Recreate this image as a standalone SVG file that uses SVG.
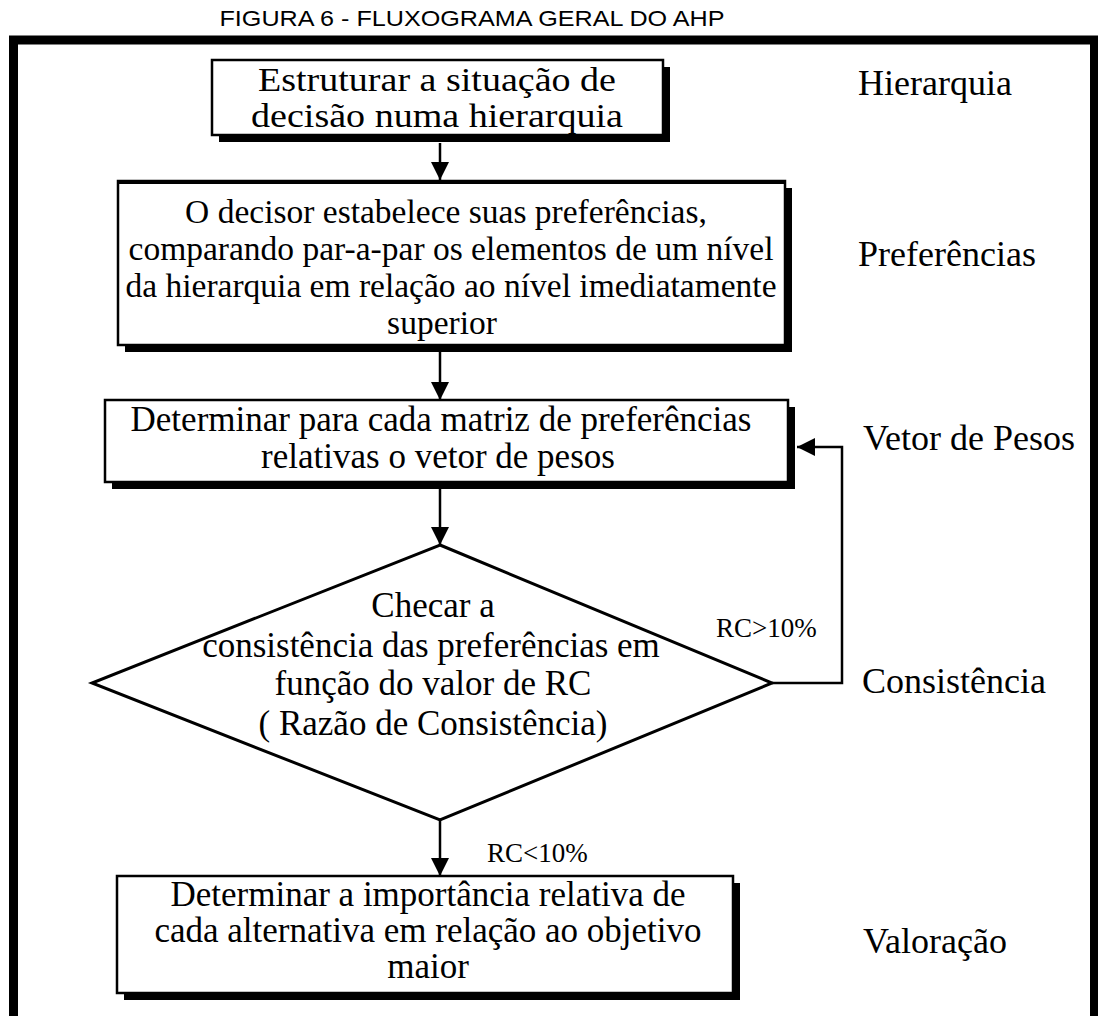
<svg xmlns="http://www.w3.org/2000/svg" width="1098" height="1016" viewBox="0 0 1098 1016">
  <style>
    .title { font-family: "Liberation Sans", Arial, sans-serif; font-size: 22px; fill: #000; text-anchor: middle; }
    .txt { font-family: "Liberation Serif", "Times New Roman", serif; fill: #000; text-anchor: middle; }
    .f34 { font-size: 34px; }
    .f33 { font-size: 33.5px; }
    .f35 { font-size: 35px; }
    .lbl { font-family: "Liberation Serif", "Times New Roman", serif; font-size: 36px; fill: #000; }
    .small { font-family: "Liberation Serif", "Times New Roman", serif; font-size: 27px; fill: #000; }
    .box { fill: #fff; stroke: #000; stroke-width: 2.5; }
    .shadow { fill: #000; }
    .edge { fill: none; stroke: #000; stroke-width: 2.5; }
  </style>
  <defs>
    <marker id="arrow" viewBox="0 0 10 10" refX="10" refY="5" markerUnits="userSpaceOnUse" markerWidth="18" markerHeight="18" orient="auto">
      <path d="M0,0 L10,5 L0,10 z" fill="#000"/>
    </marker>
  </defs>

  <rect width="1098" height="1016" fill="#fff"/>

  <!-- caption -->
  <text class="title" x="472" y="26" textLength="505" lengthAdjust="spacingAndGlyphs">FIGURA 6 - FLUXOGRAMA GERAL DO AHP</text>

  <!-- heavy outer frame, open at the bottom -->
  <rect x="13.5" y="40" width="1081" height="1010" fill="none" stroke="#000" stroke-width="9"/>

  <!-- stage labels on the right -->
  <g id="labels">
    <text class="lbl" x="858" y="95">Hierarquia</text>
    <text class="lbl" x="858" y="266">Preferências</text>
    <text class="lbl" x="863" y="450">Vetor de Pesos</text>
    <text class="lbl" x="862" y="693">Consistência</text>
    <text class="lbl" x="863" y="953">Valoração</text>
  </g>

  <g id="connectors">
    <line class="edge" x1="440" y1="143" x2="440" y2="180" marker-end="url(#arrow)"/>
    <line class="edge" x1="440" y1="352" x2="440" y2="400" marker-end="url(#arrow)"/>
    <line class="edge" x1="440" y1="489" x2="440" y2="545" marker-end="url(#arrow)"/>
    <line class="edge" x1="440" y1="820" x2="440" y2="876" marker-end="url(#arrow)"/>
    <polyline class="edge" points="772,683 842,683 842,447 797,447" marker-end="url(#arrow)"/>
    <text class="small" x="716" y="637">RC&gt;10%</text>
    <text class="small" x="487" y="862">RC&lt;10%</text>
  </g>

  <g id="n1">
    <rect class="shadow" x="219" y="67" width="451" height="75"/>
    <rect class="box" x="212" y="60" width="451" height="75"/>
    <text class="txt f34" x="437" y="91" textLength="358" lengthAdjust="spacingAndGlyphs">Estruturar a situação de</text>
    <text class="txt f34" x="437" y="127" textLength="372" lengthAdjust="spacingAndGlyphs">decisão numa hierarquia</text>
  </g>

  <g id="n2">
    <rect class="shadow" x="125" y="188" width="667" height="164"/>
    <rect class="box" x="118" y="181" width="667" height="164"/>
    <path d="M118,182 H785" stroke="#000" stroke-width="4"/>
    <text class="txt f33" x="446" y="223">O decisor estabelece suas preferências,</text>
    <text class="txt f33" x="451" y="260">comparando par-a-par os elementos de um nível</text>
    <text class="txt f33" x="451" y="297">da hierarquia em relação ao nível imediatamente</text>
    <text class="txt f33" x="442" y="334">superior</text>
  </g>

  <g id="n3">
    <rect class="shadow" x="112" y="407" width="683" height="82"/>
    <rect class="box" x="105" y="400" width="683" height="82"/>
    <text class="txt f35" x="441" y="431">Determinar para cada matriz de preferências</text>
    <text class="txt f35" x="438" y="468">relativas o vetor de pesos</text>
  </g>

  <g id="n4">
    <polygon points="440,545 772,683 440,820 92,683" fill="#fff" stroke="#000" stroke-width="3"/>
    <text class="txt f35" x="433" y="617">Checar a</text>
    <text class="txt f35" x="431" y="657">consistência das preferências em</text>
    <text class="txt f35" x="433" y="695">função do valor de RC</text>
    <text class="txt f35" x="433" y="735">( Razão de Consistência)</text>
  </g>

  <g id="n5">
    <rect class="shadow" x="124" y="883" width="616" height="117"/>
    <rect class="box" x="117" y="876" width="616" height="117"/>
    <text class="txt f35" x="428" y="906">Determinar a importância relativa de</text>
    <text class="txt f35" x="428" y="942">cada alternativa em relação ao objetivo</text>
    <text class="txt f35" x="428" y="978">maior</text>
  </g>
</svg>
